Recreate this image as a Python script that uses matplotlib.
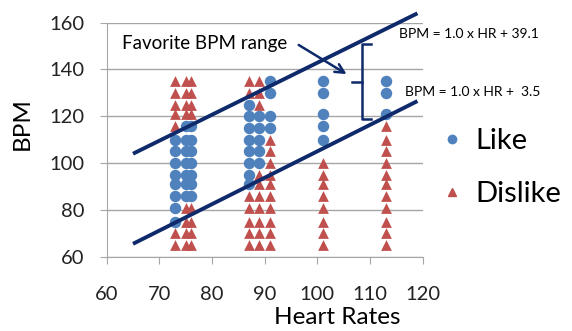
import matplotlib.pyplot as plt
from matplotlib.lines import Line2D

# Heart-rate columns and the BPM values rated at each one
heart_rates = [73, 75, 76, 87, 89, 91, 101, 113]
like_bpm = [
    [110, 105, 100, 95, 91, 86, 81, 75],
    [116, 110, 105, 100, 95, 91, 86],
    [116, 110, 105, 100, 95, 91, 86],
    [125, 120, 115, 110, 105, 100, 95, 91],
    [120, 115, 110, 105, 100],
    [135, 130, 120, 115],
    [135, 130, 121, 116, 110],
    [135, 130, 121],
]
dislike_bpm = [
    [135, 130, 125, 121, 116, 70, 65],
    [135, 130, 125, 121, 81, 75, 70, 65],
    [135, 130, 125, 121, 81, 75, 70, 65],
    [135, 130, 86, 81, 75, 70, 65],
    [135, 130, 125, 95, 91, 86, 81, 75, 70, 65],
    [110, 105, 100, 95, 91, 86, 81, 75, 70, 65],
    [100, 95, 91, 86, 81, 75, 70, 65],
    [116, 110, 105, 100, 95, 91, 86, 81, 75, 70, 65],
]

# boundary lines of the favourite range (as drawn)
line_hr = [65, 119]
upper_bpm = [104, 164]
lower_bpm = [65.5, 126.5]

blue = '#4F81BD'
red = '#C0504D'
navy = '#0E2A6B'

plt.rcParams['font.family'] = ['Lato', 'DejaVu Sans']

fig = plt.figure(figsize=(5.72, 3.31), dpi=100)
ax = fig.add_axes([0.1865, 0.2245, 0.5525, 0.707])

for hr, vals in zip(heart_rates, dislike_bpm):
    ax.scatter([hr] * len(vals), vals, marker='^', s=60, color=red, linewidths=0, zorder=2)
for hr, vals in zip(heart_rates, like_bpm):
    ax.scatter([hr] * len(vals), vals, marker='o', s=68, color=blue, linewidths=0, zorder=3)

ax.plot(line_hr, upper_bpm, color=navy, lw=2.8, solid_capstyle='butt', zorder=4, clip_on=False)
ax.plot(line_hr, lower_bpm, color=navy, lw=2.8, solid_capstyle='butt', zorder=4, clip_on=False)

# bracket marking the range
bx, btop, bbot, bmid = 108.4, 151.1, 118.9, 134.7
ax.plot([110.2, bx, bx, 110.2], [btop, btop, bbot, bbot], color=navy, lw=1.8, zorder=4, clip_on=False)
ax.plot([106.5, bx], [bmid, bmid], color=navy, lw=1.8, zorder=4, clip_on=False)

ax.text(63, 151, 'Favorite BPM range', fontsize=13.5, va='center', ha='left', color='black')
ax.annotate('', xy=(106.0, 137.4), xytext=(96.0, 151.1),
            arrowprops=dict(arrowstyle='->', color=navy, lw=1.8, mutation_scale=16), zorder=5)

fig.text(399 / 572, 1 - 34 / 331, 'BPM = 1.0 x HR + 39.1', fontsize=10, va='center', ha='left')
fig.text(405 / 572, 1 - 92 / 331, 'BPM = 1.0 x HR +  3.5', fontsize=10, va='center', ha='left')

ax.set_xlim(60, 120)
ax.set_ylim(60, 160)
ax.set_xticks(range(60, 121, 10))
ax.set_yticks(range(60, 161, 20))
ax.grid(axis='y', color='#A6A6A6', lw=1)
ax.set_axisbelow(True)
for s in ['top', 'right']:
    ax.spines[s].set_visible(False)
for s in ['left', 'bottom']:
    ax.spines[s].set_color('#A6A6A6')
ax.tick_params(colors='#A6A6A6', labelcolor='#222222', labelsize=14.5, length=5, direction='out')
ax.tick_params(axis='x', pad=16)
ax.tick_params(axis='y', pad=11)
ax.set_xlabel('Heart Rates', fontsize=17.5)
ax.set_ylabel('BPM', fontsize=17.5)
ax.xaxis.set_label_coords(0.73, -0.215)
ax.yaxis.set_label_coords(-0.233, 0.568)

handles = [Line2D([], [], marker='o', ls='', color=blue, markersize=6),
           Line2D([], [], marker='^', ls='', color=red, markersize=6)]
fig.legend(handles, ['Like', 'Dislike'], loc='upper left', bbox_to_anchor=(0.745, 0.649),
           frameon=False, fontsize=21, handletextpad=0.3, labelspacing=0.93,
           handlelength=1.0, borderaxespad=0)

fig.savefig('out.png', dpi=100)
